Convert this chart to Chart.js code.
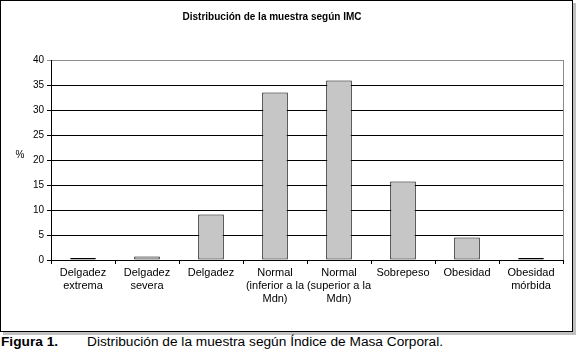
<!DOCTYPE html>
<html lang="es">
<head>
  <meta charset="UTF-8" />
  <title>Distribución de la muestra según IMC</title>
  <script src="https://cdn.jsdelivr.net/npm/chart.js"></script>
  <style>
    body { margin: 0; background: #fff; font-family: "Liberation Sans", Arial, sans-serif; }
    #marco {
      position: absolute; left: 0; top: 0;
      width: 571px; height: 330px;
      border: 1px solid #000;
      box-shadow: 3px 3px 0 #c0c0c0;
      background: #fff;
    }
    #grafico { position: absolute; left: 0; top: 0; }
    #pie {
      position: absolute; left: 1px; top: 334px;
      font-size: 13.7px; line-height: 16px; white-space: nowrap;
    }
    #pie b { display: inline-block; width: 86px; }
  </style>
</head>
<body>
  <div id="marco">
    <canvas id="grafico" width="571" height="330"></canvas>
  </div>
  <div id="pie"><b>Figura 1.</b>Distribución de la muestra según Índice de Masa Corporal.</div>

  <script>
    // datos
    const titulo = "Distribución de la muestra según IMC";
    const categorias = [
      ["Delgadez", "extrema"],
      ["Delgadez", "severa"],
      ["Delgadez"],
      ["Normal", "(inferior a la", "Mdn)"],
      ["Normal", "(superior a la", "Mdn)"],
      ["Sobrepeso"],
      ["Obesidad"],
      ["Obesidad", "mórbida"]
    ];
    const porcentajes = [0.3, 0.7, 9.1, 33.5, 35.9, 15.7, 4.5, 0.3];
    const ejeY = { min: 0, max: 40, paso: 5, etiqueta: "%" };

    const fuente = "'Liberation Sans', Arial, sans-serif";

    // titulo, etiqueta del eje y borde derecho del área de trazado
    const extras = {
      id: "extras",
      beforeDatasetsDraw(chart) {
        const { ctx, chartArea } = chart;
        ctx.save();
        ctx.strokeStyle = "#8c8c8c";
        ctx.lineWidth = 1;
        ctx.beginPath();
        ctx.moveTo(chartArea.right + 0.5, chartArea.top);
        ctx.lineTo(chartArea.right + 0.5, chartArea.bottom);
        ctx.stroke();
        ctx.restore();
      },
      afterDraw(chart) {
        const { ctx, chartArea } = chart;
        ctx.save();
        ctx.fillStyle = "#000";
        ctx.textAlign = "center";
        ctx.textBaseline = "middle";
        ctx.font = "bold 10px " + fuente;
        ctx.fillText(titulo, 271, 16);
        ctx.font = "10px " + fuente;
        ctx.fillText(ejeY.etiqueta, 19, (chartArea.top + chartArea.bottom) / 2 - 5);
        ctx.restore();
      }
    };

    const ctx = document.getElementById("grafico").getContext("2d");
    new Chart(ctx, {
      type: "bar",
      data: {
        labels: categorias,
        datasets: [{
          data: porcentajes,
          backgroundColor: "#c6c6c6",
          borderColor: "#000",
          borderWidth: 1,
          borderSkipped: false,
          minBarLength: 2,
          categoryPercentage: 1,
          barPercentage: 0.4
        }]
      },
      options: {
        responsive: false,
        animation: false,
        devicePixelRatio: 1,
        layout: { padding: { left: 0, right: 9, top: 59, bottom: 0 } },
        plugins: {
          legend: { display: false },
          tooltip: { enabled: false }
        },
        scales: {
          x: {
            offset: true,
            afterFit(scale) { scale.height = 71; },
            grid: {
              offset: true,
              drawOnChartArea: false,
              drawTicks: true,
              tickLength: 4,
              color: "#000"
            },
            border: { color: "#000", width: 1 },
            ticks: {
              autoSkip: false,
              maxRotation: 0,
              minRotation: 0,
              padding: 3,
              color: "#000",
              font: { family: fuente, size: 11, lineHeight: 1.15 }
            }
          },
          y: {
            min: ejeY.min,
            max: ejeY.max,
            afterFit(scale) { scale.width = 50; },
            grid: {
              color: (c) => (c.tick && c.tick.value === ejeY.max ? "#8c8c8c" : "#000"),
              tickLength: 4
            },
            border: { color: "#000", width: 1 },
            ticks: {
              stepSize: ejeY.paso,
              padding: 3,
              color: "#000",
              font: { family: fuente, size: 10 }
            }
          }
        }
      },
      plugins: [extras]
    });
  </script>
</body>
</html>
